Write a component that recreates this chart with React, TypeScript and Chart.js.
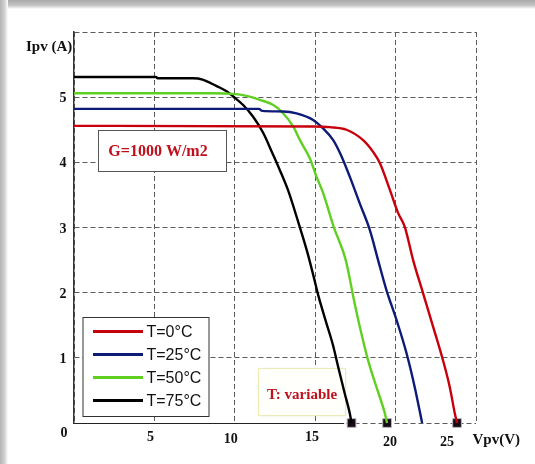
import React, { useEffect, useRef } from 'react';
import { Chart, registerables } from 'chart.js';

Chart.register(...registerables);

// ---- data ----
const seriesLabels = ['T=0°C', 'T=25°C', 'T=50°C', 'T=75°C'];
const seriesColors = ['#c8000c', '#0c1a78', '#5fd022', '#000000'];

const t0V = [0, 14.9, 15.9, 16.95, 17.98, 18.6, 19.02, 19.64, 20.16, 20.57, 21.09, 21.71, 22.33, 22.95, 23.37, 23.68, 23.82];
const t0I = [4.56, 4.55, 4.54, 4.5, 4.34, 4.16, 3.99, 3.58, 3.22, 3.01, 2.5, 1.99, 1.48, 0.96, 0.55, 0.15, 0];

const t25V = [0, 11.5, 11.7, 13.0, 13.84, 14.87, 15.49, 16.12, 16.64, 17.15, 17.77, 18.4, 18.91, 19.43, 20.06, 20.68, 21.19, 21.65];
const t25I = [4.82, 4.82, 4.79, 4.78, 4.75, 4.65, 4.52, 4.34, 4.09, 3.78, 3.37, 2.96, 2.5, 2.04, 1.58, 1.07, 0.55, 0];

const t50V = [0, 8.6, 9.9, 10.73, 11.56, 12.39, 12.9, 13.63, 14.05, 14.67, 15.08, 15.49, 16.15, 16.9, 17.4, 17.77, 18.29, 18.81, 19.33, 19.47];
const t50I = [5.06, 5.06, 5.05, 5.02, 4.96, 4.88, 4.78, 4.55, 4.34, 4.06, 3.78, 3.53, 3.01, 2.5, 1.9, 1.48, 0.96, 0.55, 0.15, 0];

const t75V = [0, 5.1, 5.2, 7.4, 8.0, 8.87, 9.49, 9.9, 10.52, 11.14, 11.77, 12.34, 12.75, 13.3, 13.9, 14.5, 14.9, 15.2, 15.7, 16.1, 16.43, 16.84, 17.15, 17.26];
const t75I = [5.31, 5.31, 5.29, 5.29, 5.27, 5.17, 5.09, 5.01, 4.88, 4.7, 4.45, 4.14, 3.91, 3.58, 3.12, 2.63, 2.25, 1.95, 1.53, 1.2, 0.86, 0.45, 0.15, 0];

const vocMarkers = [17.26, 19.47, 23.82];
const axisSolidTo = 16.8;

const xTickLabels = ['5', '10', '15', '20', '25'];
const xTickLabelAt = [4.75, 9.75, 14.8, 19.65, 23.2];
const xTickLabelDrop = [0, 2, 0, 5, 5];
const yTickLabels = ['1', '2', '3', '4', '5'];
const yTickLabelAt = [1, 2, 3, 4, 5];

const yTitle = 'Ipv (A)';
const xTitle = 'Vpv(V)';
const noteG = 'G=1000 W/m2';
const noteT = 'T: variable';

const seriesV = [t0V, t25V, t50V, t75V];
const seriesI = [t0I, t25I, t50I, t75I];

const SERIF = '"Liberation Serif", "Times New Roman", serif';
const SANS = '"Liberation Sans", Arial, sans-serif';
const NOTE_RED = '#c0101e';

const overlay = {
  id: 'overlay',
  beforeDatasetsDraw(chart: any) {
    const { ctx, scales } = chart;
    const x = scales.x;
    const y = scales.y;
    ctx.save();
    // solid part of the V axis
    const y0 = Math.round(y.getPixelForValue(0)) + 0.5;
    ctx.strokeStyle = '#222';
    ctx.lineWidth = 1.2;
    ctx.setLineDash([]);
    ctx.beginPath();
    ctx.moveTo(x.getPixelForValue(0), y0);
    ctx.lineTo(x.getPixelForValue(axisSolidTo), y0);
    ctx.stroke();

    // G note box
    ctx.fillStyle = '#ffffff';
    ctx.fillRect(98.5, 130.5, 128, 41);
    ctx.strokeStyle = '#555';
    ctx.lineWidth = 1;
    ctx.strokeRect(98.5, 130.5, 128, 41);
    ctx.fillStyle = NOTE_RED;
    ctx.font = `bold 16px ${SERIF}`;
    ctx.textAlign = 'center';
    ctx.textBaseline = 'middle';
    ctx.fillText(noteG, 158, 151.5);

    // T note box
    ctx.shadowColor = 'rgba(200,200,150,0.5)';
    ctx.shadowBlur = 3;
    ctx.fillStyle = '#fffffb';
    ctx.fillRect(258.5, 368.5, 87, 47);
    ctx.shadowBlur = 0;
    ctx.shadowColor = 'transparent';
    ctx.strokeStyle = '#ecebb8';
    ctx.strokeRect(258.5, 368.5, 87, 47);
    ctx.fillStyle = NOTE_RED;
    ctx.font = `bold 15px ${SERIF}`;
    ctx.fillText(noteT, 302, 395.5);
    ctx.restore();
  },
  afterDatasetsDraw(chart: any) {
    const { ctx } = chart;
    ctx.save();
    // legend box
    ctx.fillStyle = '#ffffff';
    ctx.fillRect(83, 317.5, 126, 99);
    ctx.strokeStyle = '#333';
    ctx.lineWidth = 1;
    ctx.strokeRect(83, 317.5, 126, 99);
    const rows = [331.5, 354.5, 377.5, 400.5];
    ctx.font = `16px ${SANS}`;
    ctx.textAlign = 'left';
    ctx.textBaseline = 'middle';
    chart.data.datasets.slice(0, 4).forEach((ds: any, i: number) => {
      ctx.strokeStyle = ds.borderColor;
      ctx.lineWidth = 3;
      ctx.lineCap = 'butt';
      ctx.beginPath();
      ctx.moveTo(93, rows[i]);
      ctx.lineTo(143, rows[i]);
      ctx.stroke();
      ctx.fillStyle = '#111';
      ctx.fillText(ds.label, 146.5, rows[i] + 1);
    });
    ctx.restore();
  },
  afterDraw(chart: any) {
    const { ctx, scales, chartArea } = chart;
    const x = scales.x;
    const y = scales.y;
    ctx.save();
    ctx.fillStyle = '#111';
    ctx.font = `bold 14px ${SERIF}`;
    ctx.textAlign = 'center';
    ctx.textBaseline = 'middle';
    xTickLabels.forEach((t, i) => {
      ctx.fillText(t, x.getPixelForValue(xTickLabelAt[i]), chartArea.bottom + 14 + xTickLabelDrop[i]);
    });
    yTickLabels.forEach((t, i) => {
      ctx.fillText(t, chartArea.left - 11, y.getPixelForValue(yTickLabelAt[i]) + 1.5);
    });
    ctx.fillText('0', chartArea.left - 10, chartArea.bottom + 10);
    ctx.font = `bold 15px ${SERIF}`;
    ctx.textAlign = 'left';
    ctx.fillText(yTitle, 26, 47);
    ctx.fillText(xTitle, 472.5, 440);
    ctx.restore();
  },
};

export default function App() {
  const ref = useRef<HTMLCanvasElement | null>(null);

  useEffect(() => {
    if (!ref.current) return;
    const curves = seriesLabels.map((label, k) => ({
      type: 'line' as const,
      label,
      data: seriesV[k].map((v, i) => ({ x: v, y: seriesI[k][i] })),
      borderColor: seriesColors[k],
      backgroundColor: seriesColors[k],
      borderWidth: 2.4,
      pointRadius: 0,
      fill: false,
      tension: 0,
      cubicInterpolationMode: 'monotone' as const,
      clip: false as any,
    }));
    const markers = {
      type: 'scatter' as const,
      label: 'Voc',
      data: vocMarkers.map((v) => ({ x: v, y: 0 })),
      pointStyle: 'rect' as const,
      pointRadius: 6.2,
      backgroundColor: '#150a16',
      borderColor: '#b8b8b8',
      borderWidth: 1,
      showLine: false,
      clip: false as any,
    };
    const markerDots = {
      type: 'scatter' as const,
      label: 'VocDot',
      data: vocMarkers.map((v) => ({ x: v, y: 0 })),
      pointStyle: 'circle' as const,
      pointRadius: 1.8,
      backgroundColor: '#6b2c78',
      borderWidth: 0,
      showLine: false,
      clip: false as any,
    };
    const chart = new Chart(ref.current, {
      type: 'line',
      data: { datasets: [...curves, markers as any, markerDots as any] },
      options: {
        responsive: false,
        animation: false,
        layout: { padding: { left: 74, right: 59, top: 32, bottom: 41 } },
        plugins: { legend: { display: false }, tooltip: { enabled: false } },
        scales: {
          x: {
            type: 'linear',
            min: 0,
            max: 25,
            ticks: { display: false, stepSize: 5 },
            grid: { drawTicks: false, color: '#5c5c5c', lineWidth: 1 },
            border: { display: false, dash: [5, 3] },
          },
          y: {
            type: 'linear',
            min: 0,
            max: 6,
            ticks: { display: false, stepSize: 1 },
            grid: { drawTicks: false, color: '#5c5c5c', lineWidth: 1 },
            border: { display: true, color: '#333', width: 1.5, dash: [5, 3] },
          },
        },
      },
      plugins: [overlay],
    });
    return () => chart.destroy();
  }, []);

  return (
    <div style={{ position: 'fixed', left: 0, top: 0, width: 535, height: 464, background: '#ffffff', overflow: 'hidden' }}>
      <div style={{ position: 'absolute', left: 0, top: 0, width: 535, height: 9, background: 'linear-gradient(to bottom, #a9a9a9 0%, #c4c4c4 60%, #ffffff 100%)' }} />
      <div style={{ position: 'absolute', left: 0, top: 0, width: 8, height: 464, background: 'linear-gradient(to right, #b4b4b4 0%, #d0d0d0 55%, #ffffff 100%)' }} />
      <canvas ref={ref} width={535} height={464} style={{ position: 'absolute', left: 0, top: 0, display: 'block' }} />
    </div>
  );
}
